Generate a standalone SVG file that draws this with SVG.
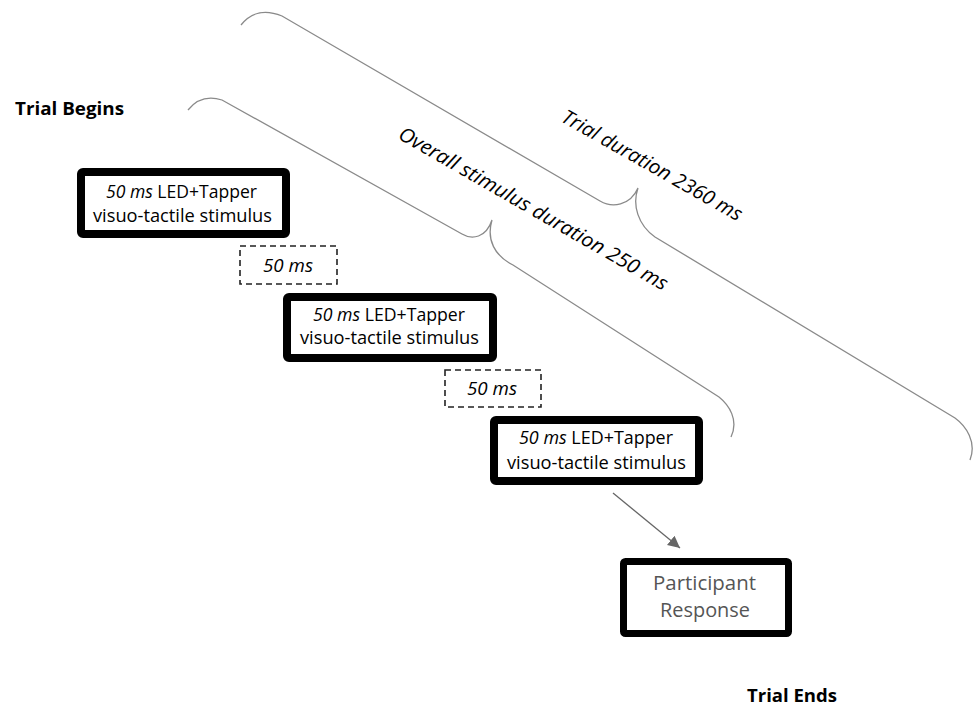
<svg xmlns="http://www.w3.org/2000/svg" width="974" height="706" viewBox="0 0 974 706">
<style>
text{font-family:"Open Sans","Noto Sans",sans-serif;fill:#000}
.box{fill:#fff;stroke:#000;stroke-width:8}
.dash{fill:#fff;stroke:#222;stroke-width:1.6;stroke-dasharray:6 4}
.brace{fill:none;stroke:#8a8a8a;stroke-width:1.3}
.t{font-size:17.5px}
.i{font-style:italic}
.lab{font-size:20px;font-style:italic}
.hdr{font-size:17.5px;font-weight:bold}
.resp{font-size:20.5px;fill:#555}
</style>
<defs>
<marker id="ah" viewBox="0 0 10 10" refX="10" refY="5" markerWidth="12" markerHeight="12" markerUnits="userSpaceOnUse" orient="auto">
<path d="M0,0 L10,5 L0,10 Z" fill="#666"/>
</marker>
</defs>
<rect width="974" height="706" fill="#fff"/>
<g id="connectors">
<path class="brace" d="M241,25 C250,14 262,8 282,16 L600,201 C612,208 630,206 638,188 M638,188 C632,205 638,225 655,237 L955,418 C966,426 977,442 970,460"/>
<path class="brace" d="M188,110 C196,100 206,95 222,100 L462,234 C472,240 486,238 492,220 M492,220 C486,240 495,256 513,265 L719,397 C729,405 739,420 731,437"/>
<line x1="613" y1="493" x2="680" y2="548" stroke="#666" stroke-width="1.3" marker-end="url(#ah)"/>
</g>
<g id="trial-begins"><text class="hdr" x="15" y="115" textLength="109" lengthAdjust="spacingAndGlyphs">Trial Begins</text></g>
<g id="trial-ends"><text class="hdr" x="747" y="702" textLength="90" lengthAdjust="spacingAndGlyphs">Trial Ends</text></g>
<g id="trial-duration"><text class="lab" transform="translate(560,121) rotate(29.5)" textLength="204" lengthAdjust="spacingAndGlyphs">Trial duration 2360 ms</text></g>
<g id="stim-duration"><text class="lab" transform="translate(397,138) rotate(29.9)" textLength="307" lengthAdjust="spacingAndGlyphs">Overall stimulus duration 250 ms</text></g>
<g id="stim1">
<rect class="box" x="81" y="172" width="205" height="62" rx="2"/>
<text class="t" x="106" y="198" textLength="151" lengthAdjust="spacingAndGlyphs"><tspan class="i">50 ms</tspan> LED+Tapper</text>
<text class="t" x="93" y="222" textLength="179" lengthAdjust="spacingAndGlyphs">visuo-tactile stimulus</text>
</g>
<g id="gap1">
<rect class="dash" x="240" y="246" width="97" height="38"/>
<text class="t i" x="263" y="272" textLength="50" lengthAdjust="spacingAndGlyphs">50 ms</text>
</g>
<g id="stim2">
<rect class="box" x="287" y="297" width="206" height="61" rx="2"/>
<text class="t" x="313" y="321" textLength="152" lengthAdjust="spacingAndGlyphs"><tspan class="i">50 ms</tspan> LED+Tapper</text>
<text class="t" x="300" y="344" textLength="179" lengthAdjust="spacingAndGlyphs">visuo-tactile stimulus</text>
</g>
<g id="gap2">
<rect class="dash" x="445" y="370" width="96" height="37"/>
<text class="t i" x="467" y="395" textLength="50" lengthAdjust="spacingAndGlyphs">50 ms</text>
</g>
<g id="stim3">
<rect class="box" x="494" y="420" width="205" height="61" rx="2"/>
<text class="t" x="519" y="444" textLength="154" lengthAdjust="spacingAndGlyphs"><tspan class="i">50 ms</tspan> LED+Tapper</text>
<text class="t" x="507" y="469" textLength="179" lengthAdjust="spacingAndGlyphs">visuo-tactile stimulus</text>
</g>
<g id="response">
<rect class="box" x="623.5" y="561.5" width="165" height="72" rx="2" style="stroke-width:7"/>
<text class="resp" x="653" y="590" textLength="103" lengthAdjust="spacingAndGlyphs">Participant</text>
<text class="resp" x="660" y="617" textLength="90" lengthAdjust="spacingAndGlyphs">Response</text>
</g>
</svg>
